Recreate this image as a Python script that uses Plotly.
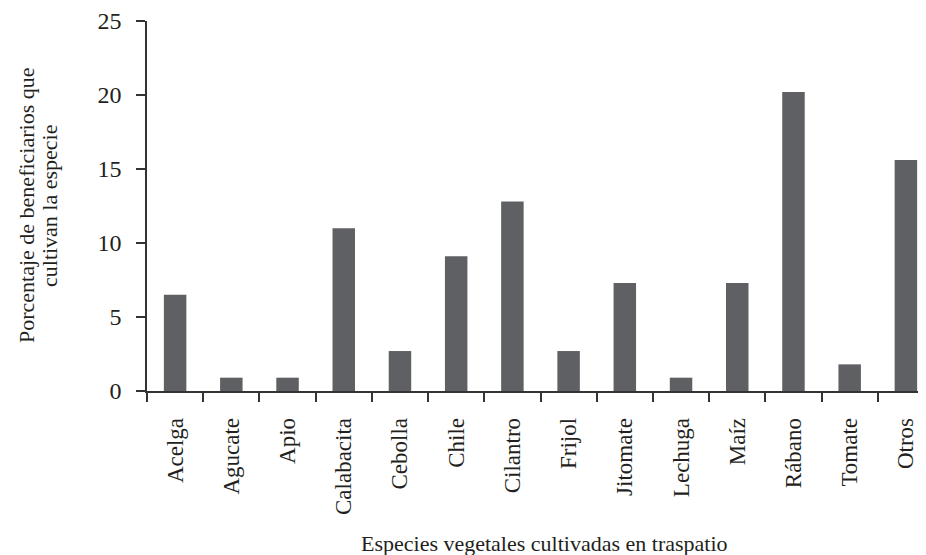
import plotly.graph_objects as go

categories = ["Acelga", "Agucate", "Apio", "Calabacita", "Cebolla", "Chile", "Cilantro",
              "Frijol", "Jitomate", "Lechuga", "Maíz", "Rábano", "Tomate", "Otros"]
values = [6.5, 0.9, 0.9, 11.0, 2.7, 9.1, 12.8, 2.7, 7.3, 0.9, 7.3, 20.2, 1.8, 15.6]
y_ticks = [0, 5, 10, 15, 20, 25]
y_title_lines = ["Porcentaje de beneficiarios que", "cultivan la especie"]
x_title = "Especies vegetales cultivadas en traspatio"

font_family = "Liberation Serif, Times New Roman, serif"
axis_color = "#333333"
text_color = "#231f20"

# page body has an 8px offset; figure coordinates below account for it
L, T, B = 139, 13, 172
W, H = 926, 555
plot_w = W - L
plot_h = H - T - B

fig = go.Figure(go.Bar(x=categories, y=values, marker=dict(color="#5f6064", line=dict(width=0))))

fig.update_layout(
    width=W, height=H,
    margin=dict(l=L, r=0, t=T, b=B),
    paper_bgcolor="white", plot_bgcolor="white",
    bargap=0.6,
    showlegend=False,
    font=dict(family=font_family, size=22, color=text_color),
)
fig.update_xaxes(
    range=[-0.5, 13.5],
    automargin=False,
    showline=True, linecolor=axis_color, linewidth=1.5,
    ticks="outside", ticklen=9, tickcolor=axis_color, tickwidth=1.5,
    tickson="boundaries",
    tickangle=-90,
    ticklabelstandoff=16,
    tickfont=dict(size=23, color=text_color),
    showgrid=False,
)
fig.update_yaxes(
    range=[0, 25],
    automargin=False,
    tickvals=y_ticks,
    showline=True, linecolor=axis_color, linewidth=1.5,
    ticks="outside", ticklen=9, tickcolor=axis_color, tickwidth=1.5,
    ticklabelstandoff=10,
    tickfont=dict(size=24, color=text_color),
    showgrid=False, zeroline=False,
)

for line_text, px in zip(y_title_lines, [18, 41]):
    fig.add_annotation(
        text=line_text,
        xref="paper", yref="paper",
        x=(px - L) / plot_w, y=0.5,
        xanchor="center", yanchor="middle",
        textangle=-90, showarrow=False,
        font=dict(size=22, color=text_color),
    )
fig.add_annotation(
    text=x_title,
    xref="paper", yref="paper",
    x=(536 - L) / plot_w, y=-(535 - (H - B)) / plot_h,
    xanchor="center", yanchor="middle",
    showarrow=False,
    font=dict(size=22, color=text_color),
)

fig.write_html("out.html")
